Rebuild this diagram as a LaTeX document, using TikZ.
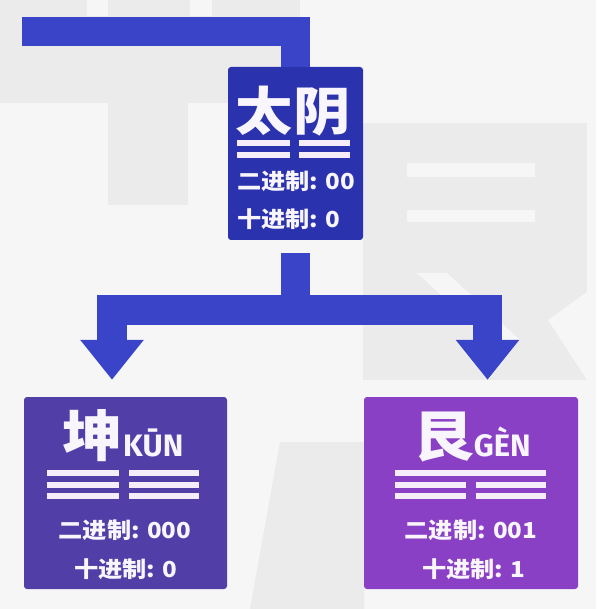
\documentclass[tikz,border=0pt]{standalone}
\usepackage{fontspec}
\usetikzlibrary{arrows.meta}
\newfontfamily\cjk{Noto Sans CJK SC}[FakeStretch=1.1]
\newfontfamily\latn{Fira Sans}
\definecolor{bgc}{HTML}{F6F6F7}
\definecolor{wmc}{HTML}{EBEBEC}
\definecolor{connc}{HTML}{3A44C8}
\definecolor{topc}{HTML}{2B32AE}
\definecolor{kunc}{HTML}{513FA7}
\definecolor{genc}{HTML}{8A40C4}
\definecolor{yaoc}{HTML}{F5EEFA}
\definecolor{txtc}{HTML}{F8F5FC}
\tikzset{
  box/.style={rounded corners=3pt, inner sep=0pt, draw=none},
  conn/.style={draw=connc, line width=29.5pt, line cap=butt, line join=miter},
  arrowconn/.style={conn, -{Triangle[width=61pt,length=40pt]}, shorten >=17pt},
  yao/.style={draw=yaoc, line width=6pt},
  title/.style={text=txtc, inner sep=0pt, font=\cjk\bfseries\fontsize{52}{52}\selectfont},
  info/.style={text=txtc, inner sep=0pt, font=\cjk\bfseries\fontsize{22}{22}\selectfont},
}
\begin{document}
\begin{tikzpicture}[x=1pt,y=-1pt]
\useasboundingbox (0,0) rectangle (596,609);
% background and watermark
\fill[bgc] (0,0) rectangle (596,609);
\fill[wmc] (0,0) rectangle (87,16);
\fill[wmc] (108,0) rectangle (190,16);
\fill[wmc] (212,0) rectangle (300,16);
\fill[wmc] (0,16) rectangle (300,103);
\fill[wmc] (108,103) rectangle (188,205);
\fill[wmc] (363,123) rectangle (587,380);
\fill[bgc] (407,163) rectangle (535,177);
\fill[bgc] (407,210) rectangle (535,222);
\fill[bgc] (417,273) -- (447,273) -- (520,340) -- (490,340) -- cycle;
\fill[bgc] (548,320) -- (587,292) -- (587,380) -- cycle;
\fill[wmc] (280,442) -- (364,442) -- (364,609) -- (250,609) -- cycle;
% boxes
\node[box, fill=topc, minimum width=135pt, minimum height=173pt] (top) at (295.5,153.5) {};
\node[box, fill=kunc, minimum width=203pt, minimum height=192pt] (kun) at (125.5,493) {};
\node[box, fill=genc, minimum width=214pt, minimum height=192pt] (gen) at (471,493) {};
% connectors
\coordinate (in0) at (22,31.5);
\coordinate (split) at (295.5,310);
\draw[conn] (in0) -| (top.north);
\draw[arrowconn] ([yshift=-13pt]top.south) -- (split) -| ([xshift=-13.5pt]kun.north);
\draw[arrowconn] (split) -| ([xshift=16.5pt]gen.north);
% top box content
\node[title, anchor=base] (ttop) at (293,131) {太阴};
\draw[yao] (237,143) -- (290,143);  \draw[yao] (299,143) -- (350,143);
\draw[yao] (237,155) -- (290,155);  \draw[yao] (299,155) -- (350,155);
\node[info, anchor=base west] (tb) at (237,190) {二进制: 00};
\node[info, anchor=base west] (td) at (237,228) {十进制: 0};
% kun box content
\node[title, anchor=base, text=txtc] (tkun) at (123,456) {\fontsize{55}{55}\selectfont 坤{\latn\bfseries\fontsize{31}{31}\selectfont KŪN}};
\foreach \y in {473,485,496} {
  \draw[yao] (47,\y) -- (119,\y); \draw[yao] (129,\y) -- (199,\y);
}
\node[info, anchor=base] (kb) at (125,538) {二进制: 000};
\node[info, anchor=base] (kd) at (126,577) {十进制: 0};
% gen box content
\node[title, anchor=base] (tgen) at (472,456) {\fontsize{55}{55}\selectfont 艮{\latn\bfseries\fontsize{31}{31}\selectfont GÈN}};
\draw[yao] (395,473) -- (546,473);
\foreach \y in {485,496} {
  \draw[yao] (395,\y) -- (466,\y); \draw[yao] (476,\y) -- (546,\y);
}
\node[info, anchor=base] (gb) at (471,538) {二进制: 001};
\node[info, anchor=base] (gd) at (474,577) {十进制: 1};
\end{tikzpicture}
\end{document}
